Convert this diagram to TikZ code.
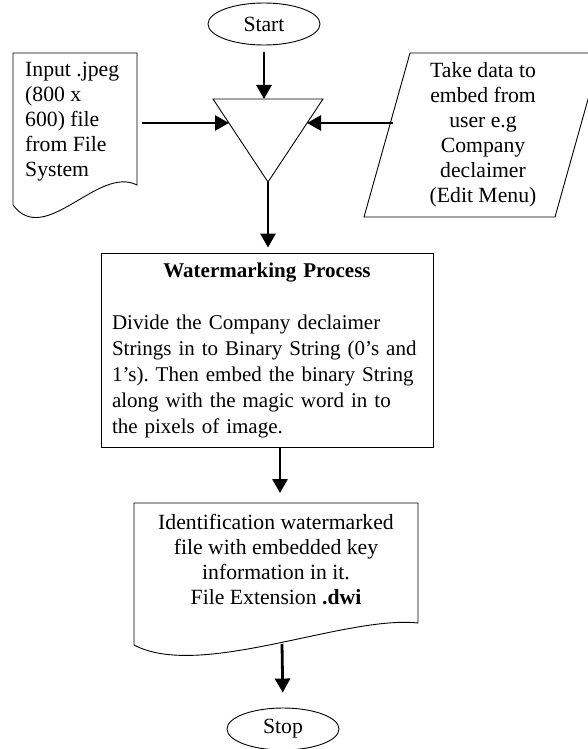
\documentclass[tikz,border=0pt]{standalone}
\usepackage{fontspec}
\setmainfont{Liberation Serif}
\usetikzlibrary{arrows.meta,shapes.geometric}
\frenchspacing
\tikzset{
    outline/.style={draw,line width=0.9pt},
    flow/.style={line width=2.8pt,-{Triangle[length=14pt,width=15pt]}},
    terminal/.style={outline,ellipse,minimum width=112pt,minimum height=42pt,inner sep=0pt},
    boxtext/.style={font=\fontsize{21.7}{25}\selectfont,inner sep=0pt,align=center}
}
\begin{document}
\begin{tikzpicture}[x=1pt,y=-1pt]
        \useasboundingbox (0,0) rectangle (588,749);
        \node[terminal,boxtext] (start) at (264,24) {Start};
        \draw[outline] (213,99) -- (323,99) -- (268,182) -- cycle;
        \coordinate (mergeIn) at (264,99);
        \coordinate (mergeL) at (229,123);
        \coordinate (mergeR) at (307,123);
        \coordinate (mergeOut) at (268,182);
        \draw[outline] (13,53) -- (137,53) -- (137,185) .. controls (98,165) and (45,248) .. (13,205) -- cycle;
        \node[boxtext,align=left,anchor=west] (input) at (25,122) {Input .jpeg\\(800 x\\600) file\\from File\\System};
        \coordinate (inputOut) at (142,123);
        \draw[outline] (410,53) -- (601,53) -- (555,217) -- (364,217) -- cycle;
        \node[boxtext] (data) at (483,135) {Take data to\\embed from\\user e.g\\Company\\declaimer\\(Edit Menu)};
        \coordinate (dataOut) at (393,123);
        \node[outline,boxtext,font=\fontsize{21}{26}\selectfont,align=left,text width=310pt,inner xsep=11pt,minimum height=194pt] (proc) at (267,350)
            {{\centering\textbf{Watermarking Process}\par}\vspace{26pt}Divide the Company declaimer\\Strings in to Binary String (0's and\\1's). Then embed the binary String\\along with the magic word in to\\the pixels of image.};
        \draw[outline] (134,503) -- (418,503) -- (418,623) .. controls (345,615) and (200,680) .. (134,645) -- cycle;
        \node[boxtext] (result) at (276,560) {Identification watermarked\\file with embedded key\\information in it.\\File Extension \textbf{.dwi}};
        \coordinate (resultIn) at (280,503);
        \coordinate (resultOut) at (282,644);
        \node[terminal,boxtext] (stop) at (283,729) {Stop};
        \draw[flow,shorten <=7pt] (start) -- (mergeIn);
        \draw[flow] (inputOut) -- (mergeL);
        \draw[flow] (dataOut) -- (mergeR);
        \draw[flow,shorten >=5pt] (mergeOut) -- (mergeOut |- proc.north);
        \draw[flow,shorten >=10pt] (proc.south -| resultIn) -- (resultIn);
        \draw[flow,shorten >=15pt] (resultOut) -- (stop.north);
    \end{tikzpicture}
\end{document}
